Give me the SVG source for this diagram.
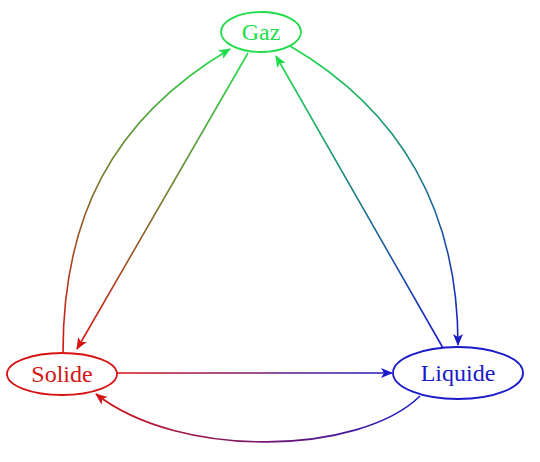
<svg xmlns="http://www.w3.org/2000/svg" width="540" height="462" viewBox="0 0 540 462">
<style>
.node{fill:#fff;stroke-width:1.8}
.lbl{font-family:"Liberation Serif","DejaVu Serif",serif;font-size:24px;text-anchor:middle}
.edge{fill:none;stroke-width:1.6}
</style>
<defs>
<marker id="aG" viewBox="0 0 12 10" refX="11" refY="5" markerWidth="12" markerHeight="10" markerUnits="userSpaceOnUse" orient="auto"><path d="M0,0 L12,5 L0,10 L3,5 Z" fill="#1fdc4a"/></marker>
<marker id="aR" viewBox="0 0 12 10" refX="11" refY="5" markerWidth="12" markerHeight="10" markerUnits="userSpaceOnUse" orient="auto"><path d="M0,0 L12,5 L0,10 L3,5 Z" fill="#d61414"/></marker>
<marker id="aB" viewBox="0 0 12 10" refX="11" refY="5" markerWidth="12" markerHeight="10" markerUnits="userSpaceOnUse" orient="auto"><path d="M0,0 L12,5 L0,10 L3,5 Z" fill="#1a1ac8"/></marker>
<linearGradient id="gSG" gradientUnits="userSpaceOnUse" x1="63" y1="352" x2="230" y2="49"><stop offset="0" stop-color="#d61414"/><stop offset="1" stop-color="#1fdc4a"/></linearGradient>
<linearGradient id="gGS" gradientUnits="userSpaceOnUse" x1="248" y1="53" x2="77" y2="349"><stop offset="0" stop-color="#1fdc4a"/><stop offset="1" stop-color="#d61414"/></linearGradient>
<linearGradient id="gGL" gradientUnits="userSpaceOnUse" x1="290" y1="46" x2="458" y2="345"><stop offset="0" stop-color="#1fdc4a"/><stop offset="1" stop-color="#1a1ac8"/></linearGradient>
<linearGradient id="gLG" gradientUnits="userSpaceOnUse" x1="443" y1="348" x2="276" y2="56"><stop offset="0" stop-color="#1a1ac8"/><stop offset="1" stop-color="#1fdc4a"/></linearGradient>
<linearGradient id="gSL" gradientUnits="userSpaceOnUse" x1="117" y1="373" x2="393" y2="373"><stop offset="0" stop-color="#d61414"/><stop offset="1" stop-color="#1a1ac8"/></linearGradient>
<linearGradient id="gLS" gradientUnits="userSpaceOnUse" x1="420" y1="396" x2="97" y2="394"><stop offset="0" stop-color="#1a1ac8"/><stop offset="1" stop-color="#d61414"/></linearGradient>
</defs>
<g id="connectors">
<path class="edge" stroke="url(#gSG)" marker-end="url(#aG)" d="M63,352 C63,220 110,120 230,49"/>
<path class="edge" stroke="url(#gGS)" marker-end="url(#aR)" d="M248,53 L77,349"/>
<path class="edge" stroke="url(#gGL)" marker-end="url(#aB)" d="M290,46 C400,110 458,210 458,345"/>
<path class="edge" stroke="url(#gLG)" marker-end="url(#aG)" d="M443,348 L276,56"/>
<path class="edge" stroke="url(#gSL)" marker-end="url(#aB)" d="M117,373 L392,373"/>
<path class="edge" stroke="url(#gLS)" marker-end="url(#aR)" d="M420,396 C360,455 180,460 96,394"/>
</g>
<g id="gaz">
<ellipse class="node" cx="261" cy="32" rx="40" ry="20" stroke="#1fdc4a"/>
<text class="lbl" x="261" y="40" fill="#1fdc4a">Gaz</text>
</g>
<g id="solide">
<ellipse class="node" cx="62" cy="374" rx="55" ry="21" stroke="#d61414"/>
<text class="lbl" x="62" y="382" fill="#d61414">Solide</text>
</g>
<g id="liquide">
<ellipse class="node" cx="458" cy="373" rx="65" ry="26" stroke="#1a1ac8"/>
<text class="lbl" x="458" y="381" fill="#1a1ac8">Liquide</text>
</g>
</svg>
